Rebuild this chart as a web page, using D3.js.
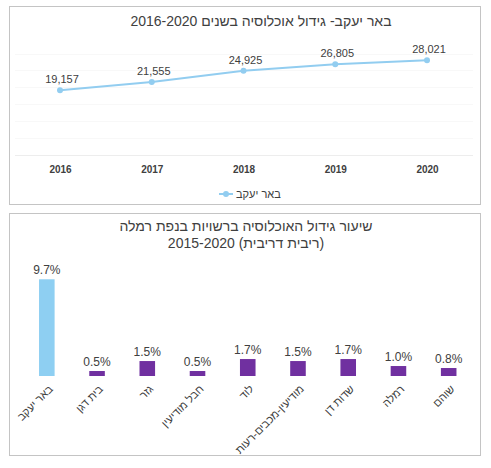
<!DOCTYPE html>
<html>
<head>
<meta charset="utf-8">
<script src="https://cdn.jsdelivr.net/npm/d3@7"></script>
<style>
  body { margin: 0; background: #fff; }
  svg { display: block; font-family: "Liberation Sans", Arial, sans-serif; }
</style>
</head>
<body>
<div id="chart"></div>
<script>
// ----------------------------------------
// DATA
// ----------------------------------------
const years = ["2016", "2017", "2018", "2019", "2020"];
const population = [19157, 21555, 24925, 26805, 28021];
const lineSeriesName = "באר יעקב";
const topTitle = "באר יעקב- גידול אוכלוסיה בשנים 2016-2020";

const towns = ["באר יעקב", "בית דגן", "גזר", "חבל מודיעין", "לוד", "מודיעין-מכבים-רעות", "שדות דן", "רמלה", "שוהם"];
const growthRates = [9.7, 0.5, 1.5, 0.5, 1.7, 1.5, 1.7, 1.0, 0.8];
const bottomTitle = ["שיעור גידול האוכלוסיה ברשויות בנפת רמלה", "(ריבית דריבית) 2015-2020"];

const W = 491, H = 468;
const textColor = "#404040";
const lineColor = "#92cdf0";
const highlightColor = "#8ecff2";
const barColor = "#7030a0";

const svg = d3.select("#chart").append("svg")
  .attr("width", W)
  .attr("height", H);

// ----------------------------------------
// PANELS
// ----------------------------------------
svg.append("rect")
  .attr("x", 9.5).attr("y", 6.5).attr("width", 471).attr("height", 198)
  .attr("fill", "#fff").attr("stroke", "#c4c4c4");

svg.append("rect")
  .attr("x", 9.5).attr("y", 213.5).attr("width", 471).attr("height", 242)
  .attr("fill", "#fff").attr("stroke", "#c4c4c4");

// ----------------------------------------
// TOP: LINE CHART
// ----------------------------------------
const pop = years.map((yr, i) => ({ year: yr, value: population[i] }));

const x = d3.scalePoint().domain(years).range([60, 427]);
const y = d3.scaleLinear().domain([0, 30000]).range([155, 53.5]);

svg.append("text")
  .attr("x", 261).attr("y", 26)
  .attr("direction", "rtl")
  .attr("text-anchor", "middle")
  .attr("fill", textColor)
  .style("font-size", "14px")
  .text(topTitle);

// gridlines - barely visible in the original
svg.append("g")
  .selectAll("line")
  .data(y.ticks(6))
  .join("line")
  .attr("x1", 15).attr("x2", 473)
  .attr("y1", d => Math.round(y(d)) + 0.5)
  .attr("y2", d => Math.round(y(d)) + 0.5)
  .attr("stroke", d => d === 0 ? "#ededed" : "#f8f8f8");

const xAxis = svg.append("g")
  .attr("transform", `translate(0,${y(0)})`)
  .call(d3.axisBottom(x).tickSize(0).tickPadding(11));
xAxis.select(".domain").remove();
xAxis.selectAll("text")
  .attr("fill", textColor)
  .style("font-size", "10px")
  .style("font-weight", "bold")
  .style("font-family", "'Liberation Sans', Arial, sans-serif");

const line = d3.line()
  .x(d => x(d.year))
  .y(d => y(d.value));

svg.append("path")
  .datum(pop)
  .attr("fill", "none")
  .attr("stroke", lineColor)
  .attr("stroke-width", 2)
  .attr("d", line);

svg.selectAll(".pop-dot")
  .data(pop)
  .join("circle")
  .attr("class", "pop-dot")
  .attr("cx", d => x(d.year))
  .attr("cy", d => y(d.value))
  .attr("r", 3)
  .attr("fill", lineColor);

svg.selectAll(".pop-label")
  .data(pop)
  .join("text")
  .attr("class", "pop-label")
  .attr("x", d => x(d.year) + 2)
  .attr("y", d => y(d.value) - 7)
  .attr("text-anchor", "middle")
  .attr("fill", textColor)
  .style("font-size", "11px")
  .text(d => d3.format(",")(d.value));

// legend
svg.append("line")
  .attr("x1", 219).attr("x2", 233).attr("y1", 194).attr("y2", 194)
  .attr("stroke", lineColor).attr("stroke-width", 2);
svg.append("circle")
  .attr("cx", 226).attr("cy", 194).attr("r", 3).attr("fill", lineColor);
svg.append("text")
  .attr("x", 236).attr("y", 198)
  .attr("fill", textColor)
  .style("font-size", "11px")
  .text(lineSeriesName);

// ----------------------------------------
// BOTTOM: BAR CHART
// ----------------------------------------
const rates = towns.map((t, i) => ({ town: t, value: growthRates[i] }));

const x2 = d3.scaleBand()
  .domain(towns)
  .range([21.7, 473.8])
  .paddingInner(0.69)
  .paddingOuter(0.345);

const y2 = d3.scaleLinear().domain([0, 10]).range([376, 276.3]);

svg.append("g")
  .selectAll("text")
  .data(bottomTitle)
  .join("text")
  .attr("x", 246)
  .attr("y", (d, i) => 231 + i * 17)
  .attr("direction", "rtl")
  .attr("text-anchor", "middle")
  .attr("fill", textColor)
  .style("font-size", "14px")
  .text(d => d);

svg.selectAll(".bar")
  .data(rates)
  .join("rect")
  .attr("class", "bar")
  .attr("x", d => x2(d.town))
  .attr("y", d => y2(d.value))
  .attr("width", x2.bandwidth())
  .attr("height", d => y2(0) - y2(d.value))
  .attr("fill", (d, i) => i === 0 ? highlightColor : barColor);

svg.selectAll(".bar-label")
  .data(rates)
  .join("text")
  .attr("class", "bar-label")
  .attr("x", d => x2(d.town) + x2.bandwidth() / 2)
  .attr("y", d => y2(d.value) - 5)
  .attr("text-anchor", "middle")
  .attr("fill", textColor)
  .style("font-size", "12px")
  .text(d => d.value.toFixed(1) + "%");

const xAxis2 = svg.append("g")
  .attr("transform", `translate(0,${y2(0)})`)
  .call(d3.axisBottom(x2).tickSize(0).tickPadding(0));
xAxis2.select(".domain").remove();
xAxis2.selectAll("text")
  .attr("text-anchor", "end")
  .attr("dy", "0.35em")
  .attr("transform", "translate(4,11) rotate(-45)")
  .attr("fill", textColor)
  .style("font-size", "11px")
  .style("font-family", "'Liberation Sans', Arial, sans-serif");
</script>
</body>
</html>
